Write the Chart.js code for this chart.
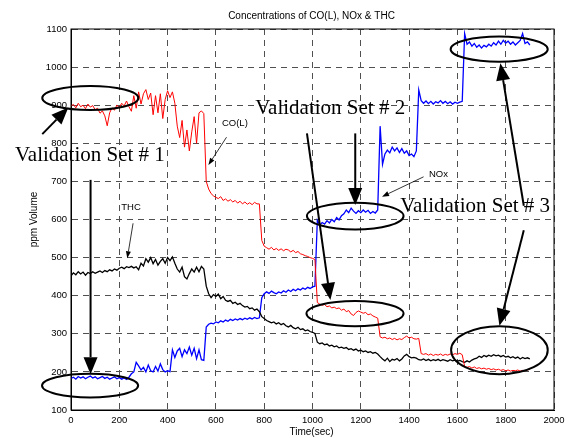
<!DOCTYPE html>
<html>
<head>
<meta charset="utf-8">
<title>Concentrations of CO(L), NOx & THC</title>
<script src="https://cdn.jsdelivr.net/npm/chart.js@4.4.1/dist/chart.umd.min.js"></script>
<style>
  html, body { margin: 0; padding: 0; background: #fff; }
  #wrap { width: 570px; height: 438px; }
</style>
</head>
<body>
<div id="wrap"><canvas id="chart" width="570" height="438"></canvas></div>
<script>
// time axis (sec)
const timeSec = [
  0, 10, 20, 30, 40, 50, 60, 70, 80, 90,
  100, 110, 120, 130, 140, 150, 160, 170, 180, 190,
  200, 210, 220, 230, 240, 250, 260, 270, 280, 290,
  300, 310, 320, 330, 340, 350, 360, 370, 380, 390,
  400, 410, 420, 430, 440, 450, 460, 470, 480, 490,
  500, 510, 520, 530, 540, 550, 560, 570, 580, 590,
  600, 610, 620, 630, 640, 650, 660, 670, 680, 690,
  700, 710, 720, 730, 740, 750, 760, 770, 780, 790,
  800, 810, 820, 830, 840, 850, 860, 870, 880, 890,
  900, 910, 920, 930, 940, 950, 960, 970, 980, 990,
  1000, 1010, 1020, 1030, 1040, 1050, 1060, 1070, 1080, 1090,
  1100, 1110, 1120, 1130, 1140, 1150, 1160, 1170, 1180, 1190,
  1200, 1210, 1220, 1230, 1240, 1250, 1260, 1270, 1280, 1290,
  1300, 1310, 1320, 1330, 1340, 1350, 1360, 1370, 1380, 1390,
  1400, 1410, 1420, 1430, 1440, 1450, 1460, 1470, 1480, 1490,
  1500, 1510, 1520, 1530, 1540, 1550, 1560, 1570, 1580, 1590,
  1600, 1610, 1620, 1630, 1640, 1650, 1660, 1670, 1680, 1690,
  1700, 1710, 1720, 1730, 1740, 1750, 1760, 1770, 1780, 1790,
  1800, 1810, 1820, 1830, 1840, 1850, 1860, 1870, 1880, 1890,
  1900
];

// CO(L) - red
const coL = [
  898, 902, 893, 905, 896, 900, 891, 903, 895, 899,
  888, 892, 879, 885, 872, 846, 880, 893, 887, 900,
  894, 905, 898, 911, 896, 884, 925, 892, 935, 903,
  930, 941, 915, 932, 875, 925, 880, 930, 865, 915,
  938, 920, 935, 905, 845, 815, 860, 790, 835, 780,
  830, 870, 800, 880, 885, 878, 700, 680, 668, 662,
  658, 655, 660, 650, 654, 648, 652, 646, 650, 643,
  648, 641, 646, 640, 644, 639, 645, 641, 641, 545,
  530, 526, 522, 527, 520, 524, 519, 523, 518, 522,
  520, 515, 519, 513, 516, 510, 508, 505, 503, 500,
  498, 495, 382, 378, 375, 377, 371, 373, 368, 370,
  366, 368, 362, 365, 358, 361, 352, 348, 356, 360,
  357, 354, 356, 350, 352, 347, 344, 341, 292, 289,
  291, 287, 289, 285, 288, 284, 287, 285, 290, 294,
  289, 291, 287, 286, 288, 248, 246, 248, 244, 247,
  243, 246, 244, 247, 243, 246, 244, 247, 245, 248,
  246, 249, 245, 214, 212, 214, 210, 213, 209, 211,
  208, 210, 207, 209, 206, 208, 205, 207, 204, 206,
  203, 205, 202, 204, 203, 205, 202, 204, 203, 205,
  207
];

// NOx - blue
const nox = [
  183, 186, 181, 188, 184, 187, 182, 186, 189, 184,
  187, 182, 185, 188, 183, 186, 181, 184, 187, 182,
  185, 181, 184, 180, 186, 195, 200, 225, 216, 205,
  212, 200, 218, 203, 200, 214, 202, 221, 206, 200,
  203, 201, 258, 238, 255, 262, 240, 258, 248, 265,
  244, 262, 235, 258, 232, 230, 318, 325, 328, 326,
  331, 329, 334, 331, 336, 333, 338, 335, 339, 336,
  340, 337, 341, 338, 342, 339, 343, 340, 342, 395,
  405, 410, 406, 412, 408, 405, 410, 407, 413, 409,
  415, 411, 417, 413, 418, 415, 420, 417, 422, 419,
  423, 425, 598, 585, 592, 588, 597, 591, 600, 594,
  605, 599, 610, 615, 625, 618, 630, 622, 616, 623,
  618, 625, 619, 624, 616, 621, 617, 625, 845, 745,
  772, 782, 775, 790, 780, 788, 776, 786, 774, 780,
  768, 772, 765, 780, 940, 912, 905, 911, 904, 910,
  903, 909, 906, 912, 905, 910, 904, 909, 903, 908,
  905, 908, 910, 1088, 1060, 1066, 1055, 1062, 1052, 1058,
  1050, 1057, 1053, 1060, 1055, 1064, 1058, 1068, 1060, 1070,
  1063, 1068, 1060, 1066, 1058, 1064, 1070, 1088, 1062, 1066,
  1058
];

// THC - black
const thc = [
  452, 460, 455, 463, 457, 462, 454, 461, 458, 463,
  459, 462, 465, 461, 466, 463, 468, 465, 470, 467,
  472, 475, 471, 476, 474, 477, 473, 476, 468, 485,
  478, 497, 488, 500, 484, 495, 480, 490, 497, 485,
  500, 492, 502, 485, 470, 462, 475, 450, 444, 458,
  470, 462, 475, 463, 477, 470, 425, 405, 395, 403,
  398, 404, 392, 398, 388, 385, 388, 380, 383, 377,
  380, 374, 370, 372, 366, 368, 362, 365, 358, 345,
  340, 335, 332, 329, 331, 326, 329, 324, 327, 321,
  318, 322, 316, 313, 317, 311, 313, 308, 310, 306,
  304, 301, 278, 274, 276, 271, 273, 268, 270, 266,
  268, 263, 265, 262, 264, 259, 261, 257, 260, 255,
  257, 253, 255, 251, 253, 249, 251, 247, 240, 234,
  229, 236, 227, 233, 231, 235, 229, 234, 242, 246,
  240, 237, 238, 236, 232, 231, 234, 230, 233, 229,
  232, 230, 233, 229, 232, 230, 228, 232, 229, 231,
  228, 230, 227, 225, 229, 226, 231, 234, 236, 241,
  238, 243, 240, 244, 241, 245, 242, 244, 240, 243,
  239, 241, 237, 240, 236, 239, 234, 238, 235, 237,
  234
];

const SANS = "'Liberation Sans', Arial, sans-serif";
const SERIF = "'Liberation Serif', 'Times New Roman', serif";

Chart.defaults.font.family = SANS;
Chart.defaults.color = '#000';

const drawArrow = (ctx, x1, y1, x2, y2, len, half, lw) => {
  const a = Math.atan2(y2 - y1, x2 - x1);
  const bx = x2 - len * Math.cos(a);
  const by = y2 - len * Math.sin(a);
  ctx.lineWidth = lw;
  ctx.beginPath();
  ctx.moveTo(x1, y1);
  ctx.lineTo(bx, by);
  ctx.stroke();
  ctx.beginPath();
  ctx.moveTo(x2, y2);
  ctx.lineTo(bx + half * Math.sin(a), by - half * Math.cos(a));
  ctx.lineTo(bx - half * Math.sin(a), by + half * Math.cos(a));
  ctx.closePath();
  ctx.fill();
};

// frame, titles, ellipses, arrows, notes
const annotations = {
  id: 'annotations',
  afterDraw(chart) {
    const { ctx, chartArea: area } = chart;
    const xs = chart.scales.x, ys = chart.scales.y;
    const px = (t) => xs.getPixelForValue(t);
    const py = (v) => ys.getPixelForValue(v);

    ctx.save();
    ctx.strokeStyle = '#000';
    ctx.fillStyle = '#000';

    // box
    ctx.lineWidth = 1;
    ctx.strokeRect(area.left, area.top, area.right - area.left, area.bottom - area.top);

    // title + axis titles
    const cx = (area.left + area.right) / 2;
    ctx.font = '10px ' + SANS;
    ctx.textAlign = 'center';
    ctx.textBaseline = 'middle';
    ctx.fillText('Concentrations of CO(L), NOx & THC', cx - 1, 16);
    ctx.fillText('Time(sec)', cx - 1, 432);
    ctx.save();
    ctx.translate(34, (area.top + area.bottom) / 2);
    ctx.rotate(-Math.PI / 2);
    ctx.fillText('ppm Volume', 0, 0);
    ctx.restore();

    // ellipses [t, v, rt, rv]
    const ellipses = [
      [80, 919, 199, 31.5],
      [79, 164, 199, 31],
      [1177, 609, 200, 35],
      [1176, 353, 201, 33],
      [1773, 1047, 201, 33],
      [1774, 257, 200, 63]
    ];
    ctx.lineWidth = 2;
    ellipses.forEach(([t, v, rt, rv]) => {
      ctx.beginPath();
      ctx.ellipse(px(t), py(v), Math.abs(px(t + rt) - px(t)), Math.abs(py(v + rv) - py(v)), 0, 0, Math.PI * 2);
      ctx.stroke();
    });

    // big arrows
    const bigArrows = [
      [-119, 824, -11, 894],
      [81, 704, 81, 194],
      [1177, 826, 1177, 638],
      [977, 826, 1074, 389],
      [1875, 636, 1778, 1010],
      [1875, 572, 1774, 321]
    ];
    bigArrows.forEach(([t1, v1, t2, v2]) => {
      drawArrow(ctx, px(t1), py(v1), px(t2), py(v2), 17, 7, 2);
    });

    // small label arrows
    const smallArrows = [
      [644, 816, 569, 743],
      [257, 590, 233, 498],
      [1460, 712, 1288, 660]
    ];
    smallArrows.forEach(([t1, v1, t2, v2]) => {
      drawArrow(ctx, px(t1), py(v1), px(t2), py(v2), 7, 2.5, 0.8);
    });

    ctx.font = '9.5px ' + SANS;
    ctx.textAlign = 'left';
    ctx.fillText('CO(L)', px(625), py(852));
    ctx.fillText('THC', px(208), py(631));
    ctx.fillText('NOx', px(1482), py(718));

    ctx.font = '21px ' + SERIF;
    ctx.textBaseline = 'alphabetic';
    ctx.fillText('Validation Set # 1', px(-232), py(753));
    ctx.fillText('Validation Set # 2', px(763), py(877));
    ctx.fillText('Validation Set # 3', px(1363), py(620));

    ctx.restore();
  }
};

const series = (data, color, width) => ({
  data: data,
  borderColor: color,
  borderWidth: width,
  pointRadius: 0,
  tension: 0,
  fill: false
});

const axisFont = { family: SANS, size: 9.5 };
const gridStyle = { color: '#505050', lineWidth: 1, drawTicks: false };
const plainTick = (v) => String(v);

new Chart(document.getElementById('chart'), {
  type: 'line',
  data: {
    labels: timeSec,
    datasets: [
      series(coL, '#ff0000', 1),
      series(thc, '#000000', 1.3),
      series(nox, '#0000ff', 1.3)
    ]
  },
  options: {
    responsive: false,
    animation: false,
    layout: { padding: { top: 29, right: 16, left: 0, bottom: 0 } },
    plugins: {
      legend: { display: false },
      tooltip: { enabled: false }
    },
    scales: {
      x: {
        type: 'linear',
        min: 0,
        max: 2000,
        ticks: { stepSize: 200, font: axisFont, color: '#000', padding: 5, maxRotation: 0, callback: plainTick },
        grid: gridStyle,
        border: { display: true, color: '#000', width: 1, dash: [6, 5] },
        afterFit: (s) => { s.height = 28; }
      },
      y: {
        min: 100,
        max: 1100,
        ticks: { stepSize: 100, font: axisFont, color: '#000', padding: 4, callback: plainTick },
        grid: gridStyle,
        border: { display: true, color: '#000', width: 1, dash: [6, 5] },
        afterFit: (s) => { s.width = 71; }
      }
    }
  },
  plugins: [annotations]
});
</script>
</body>
</html>
